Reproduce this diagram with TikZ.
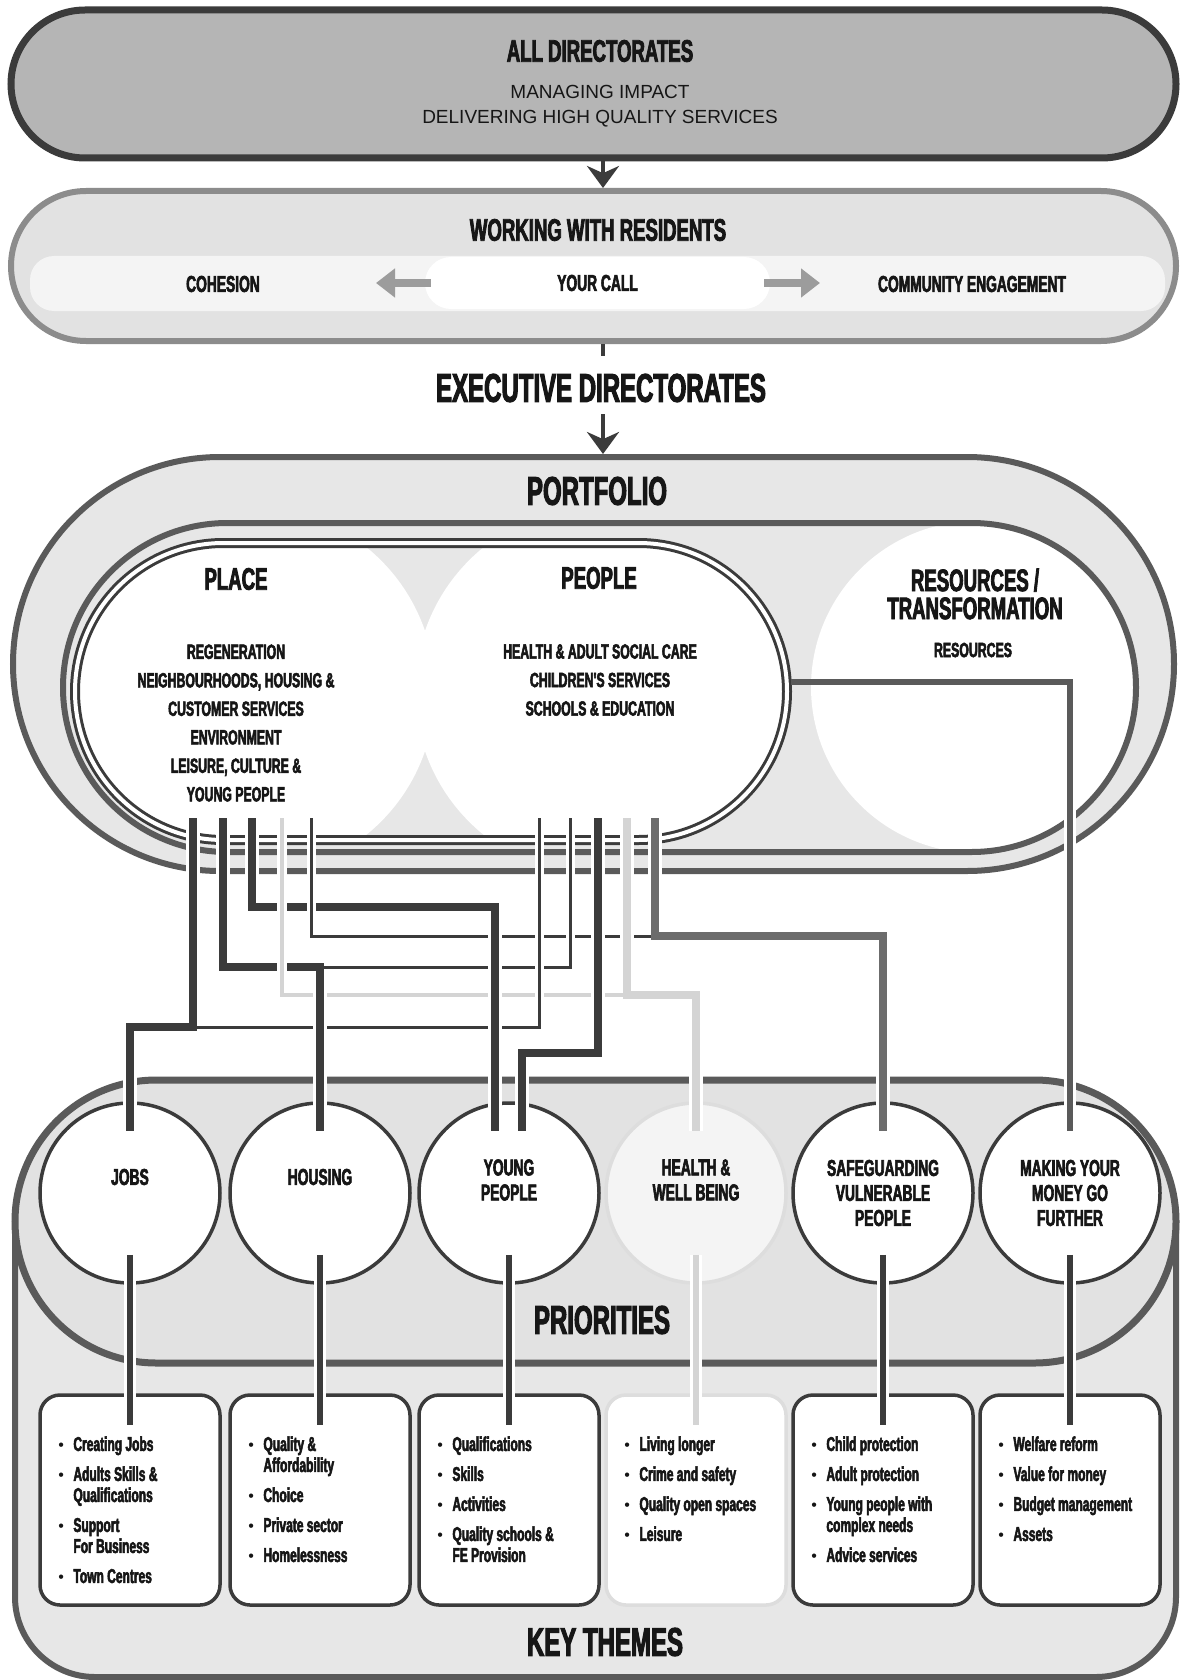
\documentclass[tikz,border=0pt]{standalone}
\usepackage{fontspec}
\setmainfont{Liberation Sans}
\newfontfamily\condfont{Liberation Sans}[UprightFont=* Bold, FakeStretch=0.6, FakeBold=2.6]
\usetikzlibrary{positioning,arrows.meta,calc,shapes.misc}

\definecolor{linedark}{HTML}{3B3B3B}
\definecolor{linemid}{HTML}{6C6C6C}
\definecolor{linelight}{HTML}{D4D4D4}
\definecolor{pillline}{HTML}{5A5A5A}
\definecolor{panelgray}{HTML}{E7E7E7}
\definecolor{lightpanel}{HTML}{E2E2E2}
\definecolor{bandgray}{HTML}{F4F4F4}
\definecolor{topgray}{HTML}{B5B5B5}
\definecolor{midgray}{HTML}{8C8C8C}
\definecolor{flowgray}{HTML}{9C9C9C}
\definecolor{inktext}{HTML}{161616}

\newcommand{\blt}{\makebox[15pt][l]{\normalfont\fontsize{16}{16}\selectfont\textbullet}}
\newcommand{\ind}{\hspace*{15pt}}

\begin{document}
\begin{tikzpicture}[
  x=1pt, y=-1pt,
  banner/.style={rounded rectangle, inner sep=0pt, minimum width=1165pt, minimum height=148pt},
  ttl/.style={font=\condfont\fontsize{40}{40}\selectfont, text=inktext, inner sep=3pt},
  head/.style={font=\condfont\fontsize{31}{28}\selectfont, text=inktext, align=center, inner sep=2pt},
  sub/.style={font=\condfont\fontsize{23}{25}\selectfont, text=inktext, align=center, inner sep=2pt},
  unit/.style={font=\condfont\fontsize{20.5}{28.5}\selectfont, text=inktext, align=center, inner sep=2pt},
  plain/.style={font=\fontsize{19}{26}\selectfont, text=inktext, inner sep=2pt},
  prio/.style={circle, draw=linedark, line width=3.5pt, fill=white, minimum size=180pt, inner sep=0pt},
  theme/.style={draw=linedark, line width=3.5pt, fill=white, rounded corners=20pt, minimum width=180pt, minimum height=210pt},
  lst/.style={font=\condfont\fontsize{20}{21}\selectfont, text=inktext, align=left, inner sep=0pt, anchor=north west},
  halo/.style={preaction={draw=white, line width=\pgflinewidth+3pt}},
  wirek/.style={draw=linedark, line width=8pt},
  wiret/.style={draw=linedark, line width=3pt},
  wirem/.style={draw=linemid, line width=8pt},
  wirer/.style={draw=pillline, line width=6pt},
  wirel/.style={draw=linelight, line width=8pt},
  wirelt/.style={draw=linelight, line width=4pt},
  stub/.style={draw=linedark, line width=6pt},
  drop/.style={draw=linedark, line width=4pt, -{Stealth[length=22pt,width=32pt]}},
  flow/.style={draw=flowgray, line width=8pt, -{Triangle[length=19pt,width=28pt]}},
  >=Stealth
]
  \fill[white] (0,0) rectangle (1179,1680);
  \useasboundingbox (0,0) rectangle (1179,1680);

  % All directorates
  \node[banner, draw=linedark, line width=7pt, fill=topgray] (alldir) at (593.5,84) {};
  \node[head] (alldir-t) at (600,51) {ALL DIRECTORATES};
  \node[plain] (alldir-m) at (600,92) {MANAGING IMPACT};
  \node[plain] (alldir-d) at (600,119) {DELIVERING HIGH QUALITY SERVICES};

  % Working with residents
  \node[banner, draw=midgray, line width=6pt, fill=lightpanel, minimum height=150pt] (wwr) at (593.5,266) {};
  \node[head] (wwr-t) at (598,230) {WORKING WITH RESIDENTS};
  \fill[bandgray, rounded corners=24pt] (30,256) rectangle (1165,311);
  \node[rounded rectangle, fill=white, minimum width=349pt, minimum height=52pt, sub] (yc) at (597.5,283) {YOUR CALL};
  \node[sub] (coh) at (223,284) {COHESION};
  \node[sub] (com) at (972,284) {COMMUNITY ENGAGEMENT};
  \coordinate (coh-tip) at (376,283);
  \coordinate (com-tip) at (820,283);
  \draw[flow] ([xshift=6pt]yc.west) -- (coh-tip);
  \draw[flow] ([xshift=-6pt]yc.east) -- (com-tip);

  % Spine down to the portfolio
  \coordinate (spine) at (603,0);
  \draw[drop] (alldir.south -| spine) -- (wwr.north -| spine);
  \node[ttl] (exec) at (601,388) {EXECUTIVE DIRECTORATES};
  \coordinate (exec-in) at ([yshift=15pt]exec.north);
  \coordinate (pf-top) at (603,454);
  \draw[draw=linedark, line width=4pt] (wwr.south -| spine) -- (exec-in -| spine);
  \draw[drop, shorten <=9pt] (exec.south -| spine) -- (pf-top);

  % Portfolio
  \draw[draw=pillline, line width=6pt, fill=panelgray, rounded corners=207pt] (13,457) rectangle (1174,871);
  \begin{scope}
    \clip[rounded corners=164.5pt] (63,523) rectangle (1136,852);
    \fill[panelgray] (63,523) rectangle (1136,852);
    \fill[white] (977,687) circle[radius=166pt];
  \end{scope}
  \draw[draw=pillline, line width=6pt, rounded corners=164.5pt] (63,523) rectangle (1136,852);
  \begin{scope}
    \clip[rounded corners=148.5pt] (75,543) rectangle (787,840);
    \fill[panelgray] (75,543) rectangle (787,840);
    \fill[white] (250,691) circle[radius=185pt];
    \fill[white] (600,691) circle[radius=185pt];
  \end{scope}
  \draw[draw=linedark, line width=3pt, double=white, double distance=4pt, rounded corners=148.5pt] (75,543) rectangle (787,840);

  \node[ttl] (pf-t) at (597,491) {PORTFOLIO};
  \node[head] (place-t) at (236,579) {PLACE};
  \node[head] (people-t) at (599,578) {PEOPLE};
  \node[head] (res-t) at (975,594) {RESOURCES /\\TRANSFORMATION};
  \node[unit] (res-l) at (973,650) {RESOURCES};
  \node[unit] (place-l) at (236,723) {REGENERATION\\NEIGHBOURHOODS, HOUSING \&\\CUSTOMER SERVICES\\ENVIRONMENT\\LEISURE, CULTURE \&\\YOUNG PEOPLE};
  \node[unit] (people-l) at (600,680) {HEALTH \& ADULT SOCIAL CARE\\CHILDREN'S SERVICES\\SCHOOLS \& EDUCATION};

  % Key themes and priorities
  \draw[draw=pillline, line width=6pt, fill=panelgray, rounded corners=80pt] (15,1221) -- (15,1677) -- (1176,1677) -- (1176,1221);
  \draw[draw=pillline, line width=7pt, fill=lightpanel, rounded corners=141.5pt] (15,1080) rectangle (1176,1363);

  \node[prio] (jobs) at (130,1193) {};
  \node[prio] (housing) at (320,1193) {};
  \node[prio] (young) at (509,1193) {};
  \node[prio, draw=linelight!80, fill=bandgray] (health) at (696,1193) {};
  \node[prio] (safe) at (883,1193) {};
  \node[prio] (money) at (1070,1193) {};
  \node[sub, yshift=16pt] (jobs-l) at (jobs) {JOBS};
  \node[sub, yshift=16pt] (housing-l) at (housing) {HOUSING};
  \node[sub, yshift=13pt] (young-l) at (young) {YOUNG\\PEOPLE};
  \node[sub, yshift=13pt] (health-l) at (health) {HEALTH \&\\WELL BEING};
  \node[sub] (safe-l) at (safe) {SAFEGUARDING\\VULNERABLE\\PEOPLE};
  \node[sub] (money-l) at (money) {MAKING YOUR\\MONEY GO\\FURTHER};
  \node[ttl] (prio-t) at (602,1320) {PRIORITIES};

  \node[theme] (t-jobs) at (130,1500) {};
  \node[theme] (t-housing) at (320,1500) {};
  \node[theme] (t-young) at (509,1500) {};
  \node[theme, draw=linelight!80] (t-health) at (696,1500) {};
  \node[theme] (t-safe) at (883,1500) {};
  \node[theme] (t-money) at (1070,1500) {};

  \node[lst] (l-jobs) at ([xshift=20pt,yshift=-43pt]t-jobs.north west) {\blt Creating Jobs\\[9pt]
    \blt Adults Skills \&\\ \ind Qualifications\\[9pt]
    \blt Support\\ \ind For Business\\[9pt]
    \blt Town Centres};
  \node[lst] (l-housing) at ([xshift=20pt,yshift=-43pt]t-housing.north west) {\blt Quality \&\\ \ind Affordability\\[9pt]
    \blt Choice\\[9pt]
    \blt Private sector\\[9pt]
    \blt Homelessness};
  \node[lst] (l-young) at ([xshift=20pt,yshift=-43pt]t-young.north west) {\blt Qualifications\\[9pt]
    \blt Skills\\[9pt]
    \blt Activities\\[9pt]
    \blt Quality schools \&\\ \ind FE Provision};
  \node[lst] (l-health) at ([xshift=20pt,yshift=-43pt]t-health.north west) {\blt Living longer\\[9pt]
    \blt Crime and safety\\[9pt]
    \blt Quality open spaces\\[9pt]
    \blt Leisure};
  \node[lst] (l-safe) at ([xshift=20pt,yshift=-43pt]t-safe.north west) {\blt Child protection\\[9pt]
    \blt Adult protection\\[9pt]
    \blt Young people with\\ \ind complex needs\\[9pt]
    \blt Advice services};
  \node[lst] (l-money) at ([xshift=20pt,yshift=-43pt]t-money.north west) {\blt Welfare reform\\[9pt]
    \blt Value for money\\[9pt]
    \blt Budget management\\[9pt]
    \blt Assets};
  \node[ttl] (kt-t) at (605,1642) {KEY THEMES};

  % Wires from portfolio to priorities
  \foreach \n/\x in {1/193,2/223,3/252,4/282,5/311,6/539,7/570,8/598,9/627,10/655}
    \coordinate (w\n) at (\x,818);
  \coordinate (b1) at (193,1027);
  \coordinate (b2) at (223,967);
  \coordinate (b3) at (252,907);
  \coordinate (b4) at (282,995);
  \coordinate (b5) at (311,936);
  \coordinate (b6) at (539,1027);
  \coordinate (b7) at (570,967);
  \coordinate (b8) at (598,1053);
  \coordinate (b9) at (627,995);
  \coordinate (b10) at (655,936);
  \coordinate (res-out) at (791,682);
  \coordinate (jobs-in) at ([yshift=-30pt]jobs.north);
  \coordinate (housing-in) at ([yshift=-30pt]housing.north);
  \coordinate (young-a) at ([xshift=-14pt,yshift=-30pt]young.north);
  \coordinate (young-b) at ([xshift=13pt,yshift=-30pt]young.north);
  \coordinate (health-in) at ([yshift=-30pt]health.north);
  \coordinate (safe-in) at ([yshift=-30pt]safe.north);
  \coordinate (money-in) at ([yshift=-30pt]money.north);

  \draw[wiret] (w6) -- (b6) -- (b1);
  \draw[wiret] (w7) -- (b7) -- (b7 -| housing-in);
  \draw[wiret] (w5) -- (b5) -- (b10);
  \draw[wirelt] (w4) -- (b4) -- (b9);
  \draw[wirek] (w1) -- (b1) -| (jobs-in);
  \draw[wirek] (w2) -- (b2) -| (housing-in);
  \draw[wirek] (w3) -- (b3) -| (young-a);
  \draw[wirek] (w8) -- (b8) -| (young-b);
  \draw[wirel] (w9) -- (b9) -| (health-in);
  \draw[wirem] (w10) -- (b10) -| (safe-in);
  \draw[wirer] (res-out) -| (money-in);

  % vertical runs cross over
  \draw[wiret, halo] (w6) -- ($(b6)+(0,-9)$);
  \draw[wiret, halo] (w7) -- ($(b7)+(0,-9)$);
  \draw[wiret, halo] (w5) -- ($(b5)+(0,-9)$);
  \draw[wirelt, halo] (w4) -- ($(b4)+(0,-9)$);
  \draw[wirek, halo] (w1) -- ($(b1)+(0,-9)$);
  \draw[wirek, halo] ($(b1 -| jobs-in)+(0,9)$) -- (jobs-in);
  \draw[wirek, halo] (w2) -- ($(b2)+(0,-9)$);
  \draw[wirek, halo] ($(b2 -| housing-in)+(0,9)$) -- (housing-in);
  \draw[wirek, halo] (w3) -- ($(b3)+(0,-9)$);
  \draw[wirek, halo] ($(b3 -| young-a)+(0,9)$) -- (young-a);
  \draw[wirek, halo] (w8) -- ($(b8)+(0,-9)$);
  \draw[wirek, halo] ($(b8 -| young-b)+(0,9)$) -- (young-b);
  \draw[wirel, halo] (w9) -- ($(b9)+(0,-9)$);
  \draw[wirel, halo] ($(b9 -| health-in)+(0,9)$) -- (health-in);
  \draw[wirem, halo] (w10) -- ($(b10)+(0,-9)$);
  \draw[wirem, halo] ($(b10 -| safe-in)+(0,9)$) -- (safe-in);
  \draw[wirer, halo] ($(res-out -| money-in)+(0,9)$) -- (money-in);

  % Priorities to key themes
  \foreach \p in {jobs,housing,young,safe,money}
    \draw[stub, halo] ([yshift=30pt]\p.south) -- ([yshift=-32pt]t-\p.north);
  \draw[stub, halo, draw=linelight] ([yshift=30pt]health.south) -- ([yshift=-32pt]t-health.north);
\end{tikzpicture}
\end{document}
